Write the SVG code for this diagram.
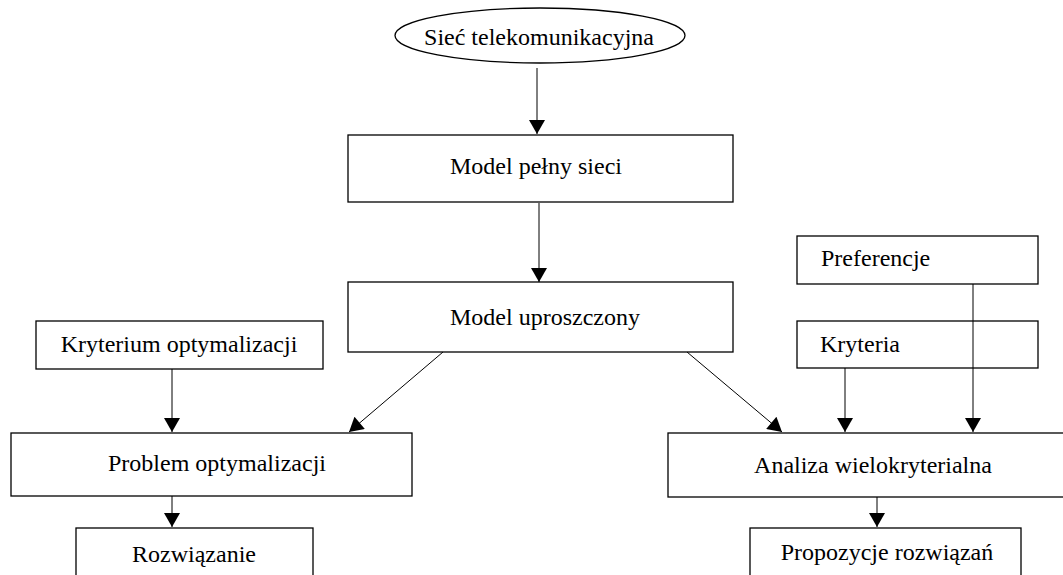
<svg xmlns="http://www.w3.org/2000/svg" width="1063" height="575" viewBox="0 0 1063 575">
<style>
.box{fill:#fff;stroke:#000;stroke-width:1.3}
.t{font-family:"Liberation Serif","Times New Roman",serif;font-size:24px;fill:#000}
.c{text-anchor:middle}
.ln{stroke:#000;stroke-width:1;fill:none;marker-end:url(#ah)}
</style>
<defs>
<marker id="ah" viewBox="0 0 14 16" refX="14" refY="8" markerWidth="16" markerHeight="16" markerUnits="userSpaceOnUse" orient="auto">
<path d="M0,0 L14,8 L0,16 Z" fill="#000"/>
</marker>
</defs>
<rect width="1063" height="575" fill="#fff"/>
<g id="siec">
<ellipse class="box" cx="540" cy="35.5" rx="145" ry="27.5"/>
<text class="t c" x="539" y="45">Sieć telekomunikacyjna</text>
</g>
<g id="model-pelny">
<rect class="box" x="348" y="135" width="385" height="67"/>
<text class="t c" x="536" y="174">Model pełny sieci</text>
</g>
<g id="model-uproszczony">
<rect class="box" x="348" y="282" width="385" height="70"/>
<text class="t c" x="545" y="325">Model uproszczony</text>
</g>
<g id="kryterium">
<rect class="box" x="36" y="321" width="287" height="48"/>
<text class="t c" x="179" y="352">Kryterium optymalizacji</text>
</g>
<g id="problem">
<rect class="box" x="11" y="433" width="401" height="63"/>
<text class="t c" x="217" y="471">Problem optymalizacji</text>
</g>
<g id="rozwiazanie">
<rect class="box" x="76" y="528" width="237" height="60"/>
<text class="t c" x="194" y="562">Rozwiązanie</text>
</g>
<g id="preferencje">
<rect class="box" x="797" y="236" width="241" height="48"/>
<text class="t" x="821" y="266">Preferencje</text>
</g>
<g id="kryteria">
<rect class="box" x="797" y="321" width="241" height="47"/>
<text class="t" x="820" y="352">Kryteria</text>
</g>
<g id="analiza">
<rect class="box" x="668" y="433" width="400" height="64"/>
<text class="t c" x="873" y="473">Analiza wielokryterialna</text>
</g>
<g id="propozycje">
<rect class="box" x="750" y="528" width="271" height="60"/>
<text class="t c" x="887" y="560">Propozycje rozwiązań</text>
</g>
<g id="connectors">
<line class="ln" x1="537" y1="68" x2="537" y2="134"/>
<line class="ln" x1="539" y1="203" x2="539" y2="282"/>
<line class="ln" x1="443" y1="352" x2="349" y2="432"/>
<line class="ln" x1="687" y1="352" x2="782" y2="432"/>
<line class="ln" x1="172" y1="369" x2="172" y2="432"/>
<line class="ln" x1="172" y1="496" x2="172" y2="527"/>
<line class="ln" x1="845" y1="368" x2="845" y2="432"/>
<line class="ln" x1="973" y1="284" x2="973" y2="432"/>
<line class="ln" x1="877" y1="497" x2="877" y2="527"/>
</g>
</svg>
